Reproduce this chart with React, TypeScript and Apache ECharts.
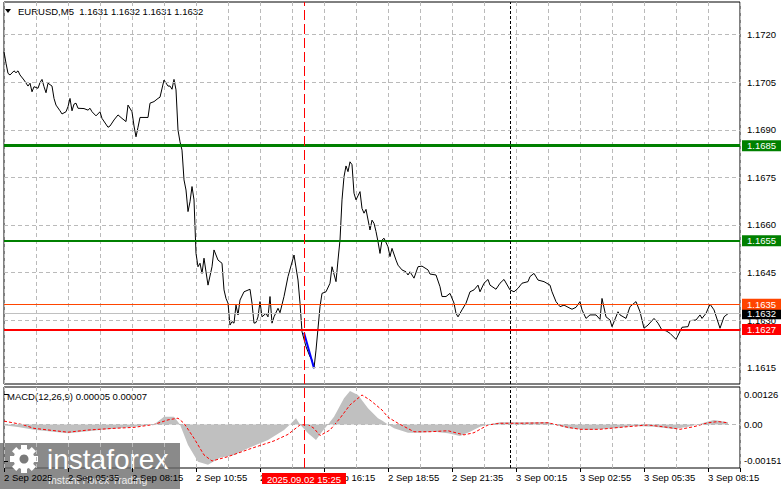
import React, { useEffect, useRef } from "react";
import * as echarts from "echarts";

// ---------- data ----------
const symbolTitle = "EURUSD,M5";
const ohlc = [1.1631, 1.1632, 1.1631, 1.1632];
const priceTicks = [1.1615, 1.163, 1.1645, 1.166, 1.1675, 1.169, 1.1705, 1.172];
const timeLabels = [
  "2 Sep 2025", "2 Sep 05:35", "2 Sep 08:15", "2 Sep 10:55", "2 Sep 13:35", "2 Sep 16:15",
  "2 Sep 18:55", "2 Sep 21:35", "3 Sep 00:15", "3 Sep 02:55", "3 Sep 05:35", "3 Sep 08:15",
];
const priceBars = [
  0, 1, 2, 3, 5, 6, 7, 8, 10, 12, 13, 14, 15, 17, 18, 19, 20, 21, 22, 24, 25, 26, 28, 29, 31, 32, 33, 34, 35, 36, 37,
  40, 42, 43, 44, 46, 48, 49, 52, 53, 55, 57, 59, 61, 62, 64, 65, 66, 67, 68, 72, 73, 75, 77, 78, 80, 82, 83, 84, 85,
  86, 87, 88, 89, 90, 91, 92, 93, 94, 95, 96, 97, 98, 99, 100, 101, 102, 104, 105, 107, 109, 110, 111, 112, 113, 114,
  115, 116, 117, 118, 120, 123, 124, 125, 126, 127, 128, 129, 131, 132, 133, 134, 135, 137, 138, 140, 142, 145, 147,
  148, 149, 151, 153, 154, 155, 156, 158, 159, 161, 163, 164, 166, 167, 168, 169, 170, 171, 172, 173, 174, 175, 176,
  178, 179, 180, 181, 183, 184, 185, 186, 187, 188, 189, 190, 192, 193, 194, 196, 197, 199, 201, 202, 203, 205, 207,
  209, 212, 213, 216, 218, 219, 221, 223, 225, 226, 227, 229, 231, 233, 235, 237, 238, 240, 242, 243, 246, 248, 250,
  253, 255, 257, 259, 262, 263, 265, 267, 270, 273, 274, 276, 278, 280, 283, 284, 286, 288, 289, 291, 293, 296, 298,
  299, 301, 303, 304, 307, 308, 311, 313, 316, 318, 320, 322, 325, 327, 329, 331, 333, 336, 339, 342, 343, 346, 348,
  349, 351, 353, 355, 358, 360, 362,
];
const priceValues = [
  1.17146, 1.1711, 1.17078, 1.17073, 1.17086, 1.1708, 1.17086, 1.17073, 1.17057, 1.17038, 1.17047, 1.1702, 1.17036,
  1.17031, 1.17049, 1.17059, 1.17036, 1.17017, 1.17047, 1.17038, 1.16999, 1.16978, 1.1696, 1.1695, 1.16957, 1.16973,
  1.16999, 1.1696, 1.16981, 1.16984, 1.16968,
  1.16967, 1.16962, 1.16968, 1.16957, 1.16944, 1.16957, 1.16936, 1.16908, 1.16912, 1.16931, 1.16947, 1.16936, 1.16926,
  1.16978, 1.16957, 1.16912, 1.16878, 1.16908, 1.16939, 1.16939, 1.16984, 1.16989, 1.16999, 1.17003, 1.17057, 1.17038,
  1.17038, 1.17028, 1.17059,
  1.17026, 1.16899, 1.16862, 1.16836, 1.16742, 1.1671, 1.16642, 1.16673, 1.16721, 1.16679, 1.1651, 1.16468, 1.16479,
  1.16447, 1.16495, 1.16452, 1.1641, 1.16468, 1.16521, 1.16489, 1.16479, 1.16395, 1.16368, 1.16353, 1.16284, 1.16295,
  1.1629, 1.16347, 1.16316, 1.16363, 1.16389, 1.16397, 1.16353, 1.1629, 1.16292, 1.1631, 1.16358, 1.1631, 1.16321,
  1.1631, 1.16374, 1.1629, 1.1631, 1.16337, 1.16323, 1.16374, 1.16437, 1.16505, 1.16426,
  1.16353, 1.16263, 1.16216, 1.16184, 1.16174, 1.16148, 1.16205, 1.16342, 1.16384, 1.16389, 1.16416, 1.16468, 1.16421,
  1.16489, 1.16552, 1.16679, 1.16752, 1.16786, 1.16768, 1.16799, 1.1679, 1.167, 1.16679,
  1.16705, 1.16652, 1.16637, 1.16649, 1.16584, 1.16615, 1.16605, 1.16579, 1.16547, 1.1651, 1.16552, 1.16558, 1.16531,
  1.165, 1.16526, 1.16489, 1.16473, 1.16458, 1.16452, 1.16442, 1.16452, 1.16432, 1.16468,
  1.1647, 1.16458, 1.16445, 1.16442, 1.16405, 1.16374, 1.16374, 1.16384, 1.16353, 1.16321, 1.1631, 1.16332, 1.16353,
  1.16389, 1.16395, 1.1641, 1.16389, 1.16416, 1.16428, 1.1641, 1.16397, 1.16416, 1.16428,
  1.16395, 1.16389, 1.164, 1.16416, 1.16421, 1.16437, 1.16447, 1.16426, 1.16421, 1.1641, 1.16389, 1.16358, 1.16342,
  1.16347, 1.16337, 1.16334, 1.1634, 1.16358, 1.16332, 1.16305, 1.16316, 1.16316, 1.16302,
  1.16368, 1.1631, 1.163, 1.16279, 1.16326, 1.16316, 1.16305, 1.16342, 1.16358, 1.16326, 1.16274, 1.16284, 1.16305,
  1.1629, 1.16268, 1.16266, 1.16258, 1.16239, 1.16277, 1.16279, 1.16298, 1.163, 1.16316,
  1.16305, 1.16321, 1.1635, 1.16332, 1.16274, 1.1631, 1.1632,
];
const trendBars = [150, 155];
const trendValues = [1.1626, 1.16148];
const levelValues = [1.1685, 1.1655, 1.1635, 1.1627];
const bidPrice = 1.1632;
const markerBar = 150;
const markerLabel = "2025.09.02 15:25";
const daySeparatorBar = 253;

const macdName = "MACD(12,26,9)";
const macdNow = [0.00005, 0.00007];
const macdTicks = [-0.00151, 0, 0.00126];
const histBars = [
  0, 7, 15, 32, 48, 65, 75, 80, 85, 88, 92, 97, 102, 108, 115, 122, 132, 140, 143, 146, 148, 152, 156, 159, 162, 165,
  170, 173, 177, 182, 187, 189, 192, 195, 202, 208, 215, 222, 228, 233, 238, 242, 248, 258, 272, 275, 282, 292, 305,
  315, 325, 335, 342, 347, 352, 355, 362,
];
const histValues = [
  -0.00003, -0.0001, -0.00022, -0.00036, -0.00023, -0.00009, 0, 0.00032, 0.00032, 0, -0.00085, -0.00154, -0.00167,
  -0.00138, -0.00126, -0.00098, -0.00064, -0.00023, 0, 0.00026, 0, -0.00036, -0.00064, -0.0003, 0, 0.00032, 0.00108,
  0.00138, 0.00122, 0.00067, 0.00026, 0.00016, 0, -0.00016, -0.00034, -0.00034, -0.0003, -0.00036, -0.00048, -0.0003,
  -0.00009, 0, 0.00009, 0.00009, 0.0001, 0, -0.00016, -0.00023, -0.00016, -0.00006, -0.00009, -0.00019, -0.00009, 0,
  0.00012, 0.00019, 0.00009,
];
const signalBars = [
  0, 9, 15, 32, 42, 55, 65, 75, 82, 87, 90, 95, 100, 104, 112, 124, 135, 142, 148, 152, 155, 158, 163, 168, 173, 179,
  183, 189, 192, 197, 205, 213, 222, 230, 235, 242, 248, 258, 272, 282, 288, 298, 308, 322, 332, 338, 345, 352, 357, 362,
];
const signalValues = [
  0.00014, 0, -0.00016, -0.00032, -0.00023, -0.00016, -0.00012, 0, 0.00019, 0.00026, 0.00005, -0.00057, -0.00126,
  -0.00151, -0.00133, -0.00098, -0.00068, -0.00041, -0.00002, 0, -0.00016, -0.00046, -0.00023, 0.00026, 0.00081,
  0.00122, 0.00101, 0.0006, 0.0003, 0.00005, -0.0003, -0.0003, -0.00026, -0.00043, -0.00034, -0.00002, 0.00005,
  0.00005, 0.00007, -0.00012, -0.0002, -0.0002, -0.00012, -0.00002, -0.00012, -0.0002, -0.00009, 0.00007, 0.00012,
  0.00007,
];

// ---------- styles ----------
const FONT = "'Liberation Sans', Arial, sans-serif";
const FS = 9.5;
const GRID = "#bababa";
const levelStyles = [
  { color: "#008000", width: 3 },
  { color: "#008000", width: 2 },
  { color: "#ff4500", width: 1 },
  { color: "#ff0000", width: 2 },
];

const zip = (xs: number[], ys: number[]) => xs.map((x, i) => [x, ys[i]]);

const boxLabel = (bg: string) => ({
  show: true,
  position: "end",
  distance: 2,
  formatter: (p: any) => Number(p.value).toFixed(4),
  backgroundColor: bg,
  color: "#ffffff",
  fontFamily: FONT,
  fontSize: FS,
  lineHeight: 10,
  padding: [1, 5, 0, 5],
});

const gridLineItem = (v: number) => ({
  yAxis: v,
  lineStyle: { color: GRID, type: [4, 3], width: 1 },
  label: { show: false },
});

function buildOption(): any {
  const priceData = zip(priceBars, priceValues);
  return {
    animation: false,
    backgroundColor: "#ffffff",
    textStyle: { fontFamily: FONT },
    grid: [
      { left: 4, top: 2, width: 736, height: 382, show: true, borderColor: "#000", borderWidth: 1, backgroundColor: "#fff", outerBoundsMode: "none", containLabel: false },
      { left: 4, top: 387, width: 736, height: 81, show: true, borderColor: "#000", borderWidth: 1, backgroundColor: "#fff", outerBoundsMode: "none", containLabel: false },
    ],
    xAxis: [
      {
        type: "value", gridIndex: 0, min: 0, max: 368, interval: 16,
        axisLine: { show: false }, axisTick: { show: false }, axisLabel: { show: false },
        splitLine: { show: true, lineStyle: { color: GRID, type: [4, 3], width: 1 } },
      },
      {
        type: "value", gridIndex: 1, min: 0, max: 368, interval: 16,
        axisLine: { show: false }, axisTick: { show: false }, axisLabel: { show: false },
        splitLine: { show: true, lineStyle: { color: GRID, type: [4, 3], width: 1 } },
      },
      {
        type: "value", gridIndex: 1, min: 0, max: 368, interval: 32, position: "bottom",
        axisLine: { show: false },
        axisTick: { show: true, length: 4, lineStyle: { color: "#000" } },
        axisLabel: {
          show: true, align: "left", margin: 4, color: "#000", fontSize: FS, fontFamily: FONT,
          formatter: (v: number) => {
            const k = v / 32;
            return Number.isInteger(k) && k < timeLabels.length ? timeLabels[k] : "";
          },
        },
        splitLine: { show: false },
      },
    ],
    yAxis: [
      {
        type: "value", gridIndex: 0, position: "right", min: 1.160981, max: 1.173032,
        axisLine: { show: false },
        axisTick: { show: true, length: 4, customValues: priceTicks, lineStyle: { color: "#000" } },
        axisLabel: {
          show: true, customValues: priceTicks, margin: 7, color: "#000", fontSize: FS, fontFamily: FONT,
          formatter: (v: number) => v.toFixed(4),
        },
        splitLine: { show: false },
      },
      {
        type: "value", gridIndex: 1, position: "right", min: -0.0018, max: 0.00155,
        axisLine: { show: false },
        axisTick: { show: true, length: 4, customValues: macdTicks, lineStyle: { color: "#000" } },
        axisLabel: {
          show: true, customValues: macdTicks, margin: 4, color: "#000", fontSize: FS, fontFamily: FONT,
          formatter: (v: number) => (v === 0 ? "0.00" : v.toFixed(5)),
        },
        splitLine: { show: false },
      },
    ],
    series: [
      {
        name: "MACD", type: "line", xAxisIndex: 1, yAxisIndex: 1, data: zip(histBars, histValues),
        showSymbol: false, silent: true,
        lineStyle: { width: 0, opacity: 0 },
        areaStyle: { color: "#c0c0c0", opacity: 1 },
        markLine: {
          silent: true, symbol: ["none", "none"], precision: 6,
          data: [{ yAxis: 0, lineStyle: { color: GRID, type: [4, 3], width: 1 }, label: { show: false } }],
        },
      },
      {
        name: "Signal", type: "line", xAxisIndex: 1, yAxisIndex: 1, data: zip(signalBars, signalValues),
        showSymbol: false, silent: true,
        lineStyle: { color: "#ff0000", width: 1, type: [3, 2] },
        markLine: {
          silent: true, symbol: ["none", "none"], precision: 6,
          data: [
            {
              xAxis: markerBar,
              lineStyle: { color: "#ff0000", type: [10, 4], width: 1 },
              label: {
                show: true, position: "start", distance: 5, formatter: markerLabel,
                backgroundColor: "#ff0000", color: "#fff", fontFamily: FONT, fontSize: FS,
                lineHeight: 10, padding: [1, 5, 0, 5],
              },
            },
            { xAxis: daySeparatorBar, lineStyle: { color: "#000", type: [3, 2], width: 1 }, label: { show: false } },
          ],
        },
      },
      {
        name: symbolTitle, type: "line", xAxisIndex: 0, yAxisIndex: 0, data: priceData,
        showSymbol: false, silent: true,
        lineStyle: { color: "#000", width: 1 },
        markLine: {
          silent: true, symbol: ["none", "none"], precision: 6,
          data: [
            ...priceTicks.map(gridLineItem),
            { yAxis: bidPrice, lineStyle: { color: "#c0c0c0", type: "solid", width: 1 }, label: boxLabel("#000000") },
            ...levelValues.map((v, i) => ({
              yAxis: v,
              lineStyle: { color: levelStyles[i].color, type: "solid", width: levelStyles[i].width },
              label: boxLabel(levelStyles[i].color),
            })),
            { xAxis: markerBar, lineStyle: { color: "#ff0000", type: [10, 4], width: 1 }, label: { show: false } },
            { xAxis: daySeparatorBar, lineStyle: { color: "#000", type: [3, 2], width: 1 }, label: { show: false } },
          ],
        },
      },
      {
        name: "trend", type: "line", xAxisIndex: 0, yAxisIndex: 0, data: zip(trendBars, trendValues),
        showSymbol: false, silent: true,
        lineStyle: { color: "#0000ff", width: 2 },
      },
    ],
    graphic: [
      { type: "polygon", shape: { points: [[5, 9], [11, 9], [8, 13]] }, style: { fill: "#000" }, silent: true },
      {
        type: "text", x: 18, y: 11, silent: true,
        style: {
          text: `${symbolTitle}  ${ohlc.map((v) => v.toFixed(4)).join(" ")}`,
          fill: "#000", font: `${FS}px ${FONT}`, verticalAlign: "middle",
        },
      },
      {
        type: "text", x: 7, y: 396, silent: true,
        style: {
          text: `${macdName} ${macdNow.map((v) => v.toFixed(5)).join(" ")}`,
          fill: "#000", font: `${FS}px ${FONT}`, verticalAlign: "middle",
        },
      },
      {
        type: "group", z: 100, silent: true,
        children: [
          { type: "rect", shape: { x: 0, y: 443, width: 180, height: 46 }, style: { fill: "rgba(105,105,105,0.78)" } },
          {
            type: "group", x: 24, y: 459,
            children: [
              ...[0, 1, 2, 3, 4, 5, 6, 7].map((k) => ({
                type: "rect", rotation: (k * Math.PI) / 4,
                shape: { x: -3, y: -14, width: 6, height: 6 }, style: { fill: "#fff" },
              })),
              { type: "circle", shape: { cx: 0, cy: 0, r: 10.5 }, style: { fill: "#fff" } },
              { type: "circle", shape: { cx: 0, cy: 0, r: 4.5 }, style: { fill: "#7a7a7a" } },
            ],
          },
          {
            type: "text", x: 47, y: 459,
            style: { text: "instaforex", fill: "#ffffff", font: `28px ${FONT}`, verticalAlign: "middle" },
          },
          {
            type: "text", x: 48, y: 480,
            style: { text: "Instant Forex Trading", fill: "#ececec", font: `10.5px ${FONT}`, verticalAlign: "middle" },
          },
        ],
      },
    ],
  };
}

export default function App() {
  const ref = useRef<HTMLDivElement>(null);
  useEffect(() => {
    if (!ref.current) return;
    const chart = echarts.init(ref.current, null, { renderer: "svg" });
    chart.setOption(buildOption());
    return () => chart.dispose();
  }, []);
  return (
    <div
      ref={ref}
      style={{ position: "fixed", left: 0, top: 0, width: 781, height: 489, background: "#fff" }}
    />
  );
}
